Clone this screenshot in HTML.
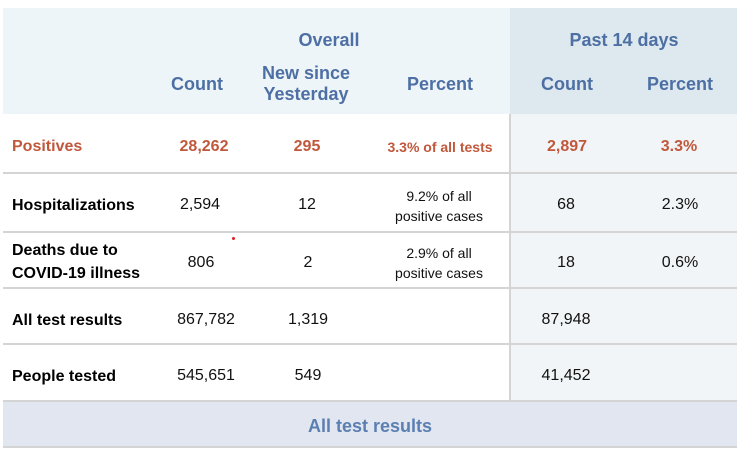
<!DOCTYPE html>
<html><head><style>
body{margin:0;width:741px;height:451px;background:#fff;font-family:"Liberation Sans",sans-serif;position:relative;overflow:hidden}
div{position:absolute}
.c{transform:translateX(-50%);text-align:center;white-space:nowrap}
.h{color:#4d6fa3;font-weight:bold;font-size:18px;line-height:21px}
.r{color:#c0583c;font-weight:bold;font-size:16px}
.b{font-weight:bold;font-size:16px;color:#000;line-height:23px}
.n{font-size:16px;color:#111;line-height:22px}
.s{font-size:14px;color:#111;line-height:20px}
.hr{left:3px;width:734px;height:2px;background:#d4d4d4}
</style></head><body>
<div style="left:3px;top:8px;width:507px;height:106px;background:#eef5f9"></div>
<div style="left:510px;top:8px;width:227px;height:106px;background:#dde9ef"></div>
<div style="left:510px;top:114px;width:227px;height:287px;background:#f2f5f7"></div>
<div style="left:509px;top:114px;width:2px;height:287px;background:#d4d4d4"></div>
<div style="left:3px;top:401px;width:734px;height:46px;background:#e1e6f1"></div>
<div class="hr" style="top:172px"></div>
<div class="hr" style="top:231px"></div>
<div class="hr" style="top:287px"></div>
<div class="hr" style="top:343px"></div>
<div class="hr" style="top:400px"></div>
<div class="hr" style="top:446px"></div>

<div class="h c" style="left:329px;top:30px">Overall</div>
<div class="h c" style="left:624px;top:30px">Past 14 days</div>
<div class="h c" style="left:197px;top:74px">Count</div>
<div class="h c" style="left:306px;top:63px">New since<br>Yesterday</div>
<div class="h c" style="left:440px;top:74px">Percent</div>
<div class="h c" style="left:567px;top:74px">Count</div>
<div class="h c" style="left:680px;top:74px">Percent</div>

<div class="r" style="left:12px;top:138px">Positives</div>
<div class="r c" style="left:204px;top:138px">28,262</div>
<div class="r c" style="left:307px;top:138px">295</div>
<div class="r c" style="left:440px;top:139px;font-size:14px">3.3% of all tests</div>
<div class="r c" style="left:567px;top:138px">2,897</div>
<div class="r c" style="left:679px;top:138px">3.3%</div>

<div class="b" style="left:12px;top:194px">Hospitalizations</div>
<div class="n c" style="left:200px;top:194px">2,594</div>
<div class="n c" style="left:307px;top:194px">12</div>
<div class="s c" style="left:439px;top:186px">9.2% of all<br>positive cases</div>
<div class="n c" style="left:566px;top:194px">68</div>
<div class="n c" style="left:680px;top:194px">2.3%</div>

<div class="b" style="left:12px;top:239px">Deaths due to<br>COVID-19 illness</div>
<div class="n c" style="left:201px;top:252px">806</div>
<div style="left:232px;top:237px;width:3px;height:3px;border-radius:50%;background:#e02020"></div>
<div class="n c" style="left:308px;top:252px">2</div>
<div class="s c" style="left:439px;top:243px">2.9% of all<br>positive cases</div>
<div class="n c" style="left:566px;top:252px">18</div>
<div class="n c" style="left:680px;top:252px">0.6%</div>

<div class="b" style="left:12px;top:309px">All test results</div>
<div class="n c" style="left:206px;top:309px">867,782</div>
<div class="n c" style="left:308px;top:309px">1,319</div>
<div class="n c" style="left:566px;top:309px">87,948</div>

<div class="b" style="left:12px;top:365px">People tested</div>
<div class="n c" style="left:206px;top:365px">545,651</div>
<div class="n c" style="left:308px;top:365px">549</div>
<div class="n c" style="left:566px;top:365px">41,452</div>

<div class="c" style="left:370px;top:416px;font-size:18px;font-weight:bold;color:#5b7fb0">All test results</div>
</body></html>
